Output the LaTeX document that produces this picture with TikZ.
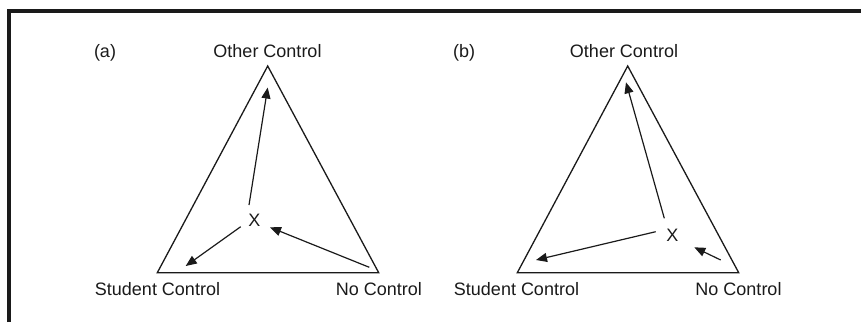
\documentclass[tikz,border=0pt]{standalone}
\usepackage{fontspec}
\setmainfont{Liberation Sans}
\usetikzlibrary{arrows.meta}
\definecolor{ink}{HTML}{1A1A1A}
\begin{document}
\begin{tikzpicture}[x=1pt,y=-1pt,
  lbl/.style={font=\fontsize{18}{20}\selectfont, text=ink, inner sep=0pt, anchor=base},
  tri/.style={draw=ink, line width=1.3pt, line join=miter},
  arr/.style={draw=ink, line width=1.2pt, -{Triangle[length=11pt,width=9pt]}},
  frame/.style={draw=ink, line width=4pt}]
\useasboundingbox (0,0) rectangle (861,322);
% frame
\coordinate (f1) at (9,322);
\coordinate (f2) at (9,11);
\coordinate (f3) at (861,11);
\draw[frame] (f1) -- (f2) -- (f3);
% ---- (a)
\coordinate (aT) at (267.7,66);
\coordinate (aL) at (157.3,272.7);
\coordinate (aR) at (378.7,272.7);
\draw[tri] (aT) -- (aL) -- (aR) -- cycle;
\node[lbl] (alab) at (105,57.7) {(a)};
\node[lbl] (aTl) at (267.5,57.7) {Other Control};
\node[lbl] (aLl) at (157.5,295) {Student Control};
\node[lbl] (aRl) at (379,295) {No Control};
\node[lbl, anchor=center] (aX) at (254.3,220.7) {X};
\coordinate (a1s) at (249,205);
\coordinate (a1e) at (267.7,87.5);
\coordinate (a2s) at (240.7,226.7);
\coordinate (a2e) at (185.7,266);
\coordinate (a3s) at (369.3,267.3);
\coordinate (a3e) at (270,227.3);
\draw[arr] (a1s) -- (a1e);
\draw[arr] (a2s) -- (a2e);
\draw[arr] (a3s) -- (a3e);
% ---- (b)
\coordinate (bT) at (627.7,66);
\coordinate (bL) at (517.3,272.7);
\coordinate (bR) at (738.7,272.7);
\draw[tri] (bT) -- (bL) -- (bR) -- cycle;
\node[lbl] (blab) at (464,57.7) {(b)};
\node[lbl] (bTl) at (624,57.7) {Other Control};
\node[lbl] (bLl) at (516.5,295) {Student Control};
\node[lbl] (bRl) at (738.5,295) {No Control};
\node[lbl, anchor=center] (bX) at (672.3,235) {X};
\coordinate (b1s) at (664.3,218.3);
\coordinate (b1e) at (626,82.3);
\coordinate (b2s) at (655.7,231.7);
\coordinate (b2e) at (536,260);
\coordinate (b3s) at (720.7,260);
\coordinate (b3e) at (694.3,247.3);
\draw[arr] (b1s) -- (b1e);
\draw[arr] (b2s) -- (b2e);
\draw[arr] (b3s) -- (b3e);
\end{tikzpicture}
\end{document}
